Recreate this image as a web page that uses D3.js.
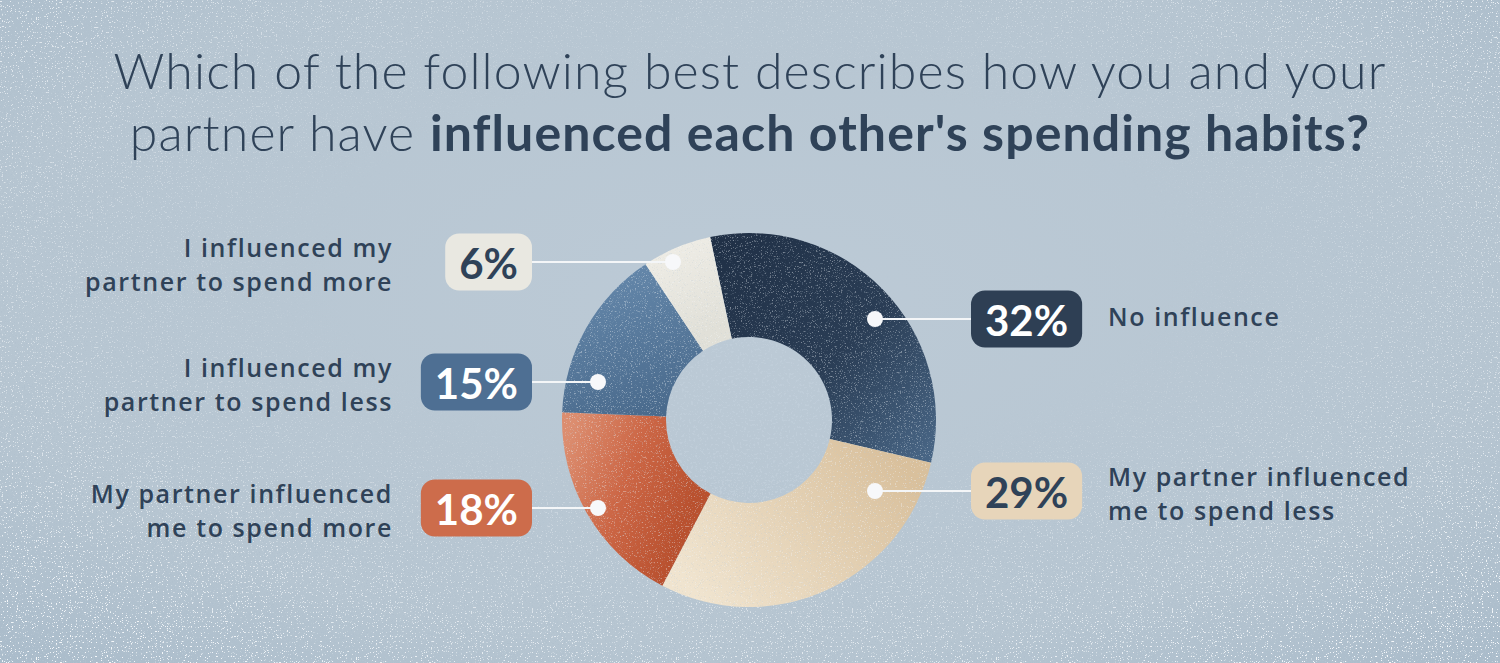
<!DOCTYPE html>
<html>
<head>
<meta charset="utf-8">
<script src="https://cdn.jsdelivr.net/npm/d3@7"></script>
<style>
  html, body { margin: 0; padding: 0; background: #b8c7d3; }
  svg { display: block; }
</style>
</head>
<body>
<svg id="chart" width="1500" height="663"></svg>
<script>
// ---------- DATA ----------
const categories = [
  "No influence",
  "My partner influenced me to spend less",
  "My partner influenced me to spend more",
  "I influenced my partner to spend less",
  "I influenced my partner to spend more"
];
const values = [32, 29, 18, 15, 6];
const labelLines = [
  ["No influence"],
  ["My partner influenced", "me to spend less"],
  ["My partner influenced", "me to spend more"],
  ["I influenced my", "partner to spend less"],
  ["I influenced my", "partner to spend more"]
];
const titleLine1 = "Which of the following best describes how you and your";
const titleLine2Light = "partner have ";
const titleLine2Bold = "influenced each other's spending habits?";

// ---------- STYLE / LAYOUT ----------
const W = 1500, H = 663;
const textColor = "#2f4258";
const sliceGrad = [
  [["0", "#1f2f45"], ["0.55", "#2a3d55"], ["1", "#4a6888"]],
  [["0", "#d9c09c"], ["1", "#f0e4cf"]],
  [["0", "#dc8d6f"], ["0.5", "#cc6645"], ["1", "#b9512f"]],
  [["0", "#6487aa"], ["1", "#476789"]],
  [["0", "#efede6"], ["1", "#e1e0d8"]]
];
const gradVec = [
  [-40, -190, 190, 40],
  [150, 40, -40, 190],
  [-190, 40, -60, 90],
  [-140, -150, -90, 10],
  [-80, -180, -40, -90]
];
const boxFill = ["#2e3f54", "#e7d5ba", "#cd6c4b", "#4e6f93", "#e9e8e1"];
const boxText = ["#ffffff", "#2f4258", "#ffffff", "#ffffff", "#2f4258"];
// callout layout: side, row centre y, dot x
const calloutSide = ["right", "right", "left", "left", "left"];
const calloutRowY = [319, 491, 508, 382, 262];
const calloutDotX = [875, 875, 598, 598, 673];

const cx = 749, cy = 420, rOuter = 187, rInner = 83;
const startDeg = -12;

const svg = d3.select("#chart");
const defs = svg.append("defs");

// background gradient
const bgGrad = defs.append("radialGradient").attr("id", "bgGrad")
  .attr("cx", "50%").attr("cy", "45%").attr("r", "75%");
bgGrad.append("stop").attr("offset", "0").attr("stop-color", "#bccad6");
bgGrad.append("stop").attr("offset", "0.7").attr("stop-color", "#b6c5d1");
bgGrad.append("stop").attr("offset", "1").attr("stop-color", "#a9bbca");

// speckle filters
function speckle(id, freq, seed, color, k, t) {
  const f = defs.append("filter").attr("id", id)
    .attr("x", 0).attr("y", 0).attr("width", "100%").attr("height", "100%");
  f.append("feTurbulence").attr("type", "fractalNoise")
    .attr("baseFrequency", freq).attr("numOctaves", 2).attr("seed", seed).attr("result", "n");
  const c = d3.color(color);
  f.append("feColorMatrix").attr("in", "n").attr("type", "matrix")
    .attr("values", `0 0 0 0 ${c.r/255} 0 0 0 0 ${c.g/255} 0 0 0 0 ${c.b/255} ${k} 0 0 0 ${-t}`)
    .attr("result", "s");
  f.append("feComposite").attr("in", "s").attr("in2", "SourceGraphic").attr("operator", "in");
}
speckle("spDark", 0.9, 3, "#6f879d", 14, 8.9);
speckle("spLight", 0.8, 11, "#e6eef4", 14, 9.1);
speckle("spDarkFine", 1.6, 7, "#7e95aa", 12, 7.6);
speckle("spHole", 0.45, 5, "#879db2", 16, 9.6);

// edge mask for heavier texture near borders
const edgeGrad = defs.append("radialGradient").attr("id", "edgeGrad")
  .attr("cx", "50%").attr("cy", "40%").attr("r", "70%");
edgeGrad.append("stop").attr("offset", "0.4").attr("stop-color", "#000");
edgeGrad.append("stop").attr("offset", "1").attr("stop-color", "#fff");
defs.append("mask").attr("id", "edgeMask")
  .append("rect").attr("width", W).attr("height", H).attr("fill", "url(#edgeGrad)");

svg.append("rect").attr("width", W).attr("height", H).attr("fill", "url(#bgGrad)");
svg.append("rect").attr("width", W).attr("height", H).attr("fill", "#fff")
  .attr("filter", "url(#spDarkFine)").attr("opacity", 0.35);
const tex = svg.append("g").attr("mask", "url(#edgeMask)");
tex.append("rect").attr("width", W).attr("height", H).attr("fill", "#fff").attr("filter", "url(#spDark)").attr("opacity", 1);
tex.append("rect").attr("width", W).attr("height", H).attr("fill", "#fff").attr("filter", "url(#spLight)").attr("opacity", 1);

// ---------- TITLE ----------
const title = svg.append("text")
  .attr("text-anchor", "middle")
  .attr("fill", textColor)
  .style("font-family", "Lato, 'Open Sans', sans-serif")
  .style("font-size", "50px")
  .style("letter-spacing", "1.1px");
title.append("tspan").attr("x", W / 2).attr("y", 89)
  .style("font-weight", 300).text(titleLine1);
const l2 = title.append("tspan").attr("x", W / 2).attr("y", 151);
l2.append("tspan").style("font-weight", 300).text(titleLine2Light);
l2.append("tspan").style("font-weight", 700).text(titleLine2Bold);

// ---------- DONUT ----------
const pie = d3.pie().sort(null).value(d => d)
  .startAngle(startDeg * Math.PI / 180)
  .endAngle((startDeg + 360) * Math.PI / 180);
const arcs = pie(values);
const arc = d3.arc().innerRadius(rInner).outerRadius(rOuter);

const g = svg.append("g").attr("transform", `translate(${cx},${cy})`);

// speckled hole
defs.append("clipPath").attr("id", "holeClip").append("circle").attr("r", rInner);
g.append("g").attr("clip-path", "url(#holeClip)")
  .append("rect").attr("x", -rInner).attr("y", -rInner).attr("width", 2 * rInner).attr("height", 2 * rInner)
  .attr("fill", "#fff").attr("filter", "url(#spHole)").attr("opacity", 0.9);

arcs.forEach((a, i) => {
  const gr = defs.append("linearGradient").attr("id", "sg" + i)
    .attr("gradientUnits", "userSpaceOnUse")
    .attr("x1", gradVec[i][0]).attr("y1", gradVec[i][1])
    .attr("x2", gradVec[i][2]).attr("y2", gradVec[i][3]);
  sliceGrad[i].forEach(s => gr.append("stop").attr("offset", s[0]).attr("stop-color", s[1]));
});

g.selectAll("path.slice").data(arcs).join("path")
  .attr("class", "slice")
  .attr("d", arc)
  .attr("fill", (d, i) => `url(#sg${i})`);

// grain on donut
defs.append("clipPath").attr("id", "donutClip")
  .selectAll("path").data(arcs).join("path").attr("d", arc);
const grain = g.append("g").attr("clip-path", "url(#donutClip)");
grain.append("rect").attr("x", -rOuter).attr("y", -rOuter).attr("width", 2 * rOuter).attr("height", 2 * rOuter)
  .attr("fill", "#fff").attr("filter", "url(#spLight)").attr("opacity", 0.35);
grain.append("rect").attr("x", -rOuter).attr("y", -rOuter).attr("width", 2 * rOuter).attr("height", 2 * rOuter)
  .attr("fill", "#fff").attr("filter", "url(#spDarkFine)").attr("opacity", 0.25);

// ---------- CALLOUTS ----------
const boxH = 57, padX = 14, rx = 14;
const leftBoxRight = 532, rightBoxLeft = 971;
const leftLabelX = 393, rightLabelX = 1108;

const callouts = svg.append("g");
arcs.forEach((a, i) => {
  const side = calloutSide[i];
  const y = calloutRowY[i];
  const dotX = calloutDotX[i];
  const grp = callouts.append("g");

  const pct = grp.append("text")
    .attr("fill", boxText[i])
    .attr("text-anchor", "middle")
    .attr("dominant-baseline", "central")
    .style("font-family", "Lato, 'Open Sans', sans-serif")
    .style("font-weight", 700)
    .style("font-size", "42px")
    .text(values[i] + "%");
  const tw = pct.node().getComputedTextLength();
  const bw = tw + 2 * padX;
  const bx = side === "left" ? leftBoxRight - bw : rightBoxLeft;
  pct.attr("x", bx + bw / 2).attr("y", y + 1);

  const lx1 = side === "left" ? leftBoxRight : dotX;
  const lx2 = side === "left" ? dotX : rightBoxLeft;
  grp.insert("line", "text").attr("x1", lx1).attr("x2", lx2).attr("y1", y).attr("y2", y)
    .attr("stroke", "#f4f6f8").attr("stroke-width", 2);
  grp.insert("rect", "text").attr("x", bx).attr("y", y - boxH / 2)
    .attr("width", bw).attr("height", boxH).attr("rx", rx)
    .attr("fill", boxFill[i]);
  grp.append("circle").attr("cx", dotX).attr("cy", y).attr("r", 8).attr("fill", "#f7f8fa");

  const lines = labelLines[i];
  const lh = 34;
  const firstBase = lines.length === 1 ? y + 7 : y - 5;
  lines.forEach((t, j) => {
    grp.append("text")
      .attr("fill", textColor)
      .attr("text-anchor", side === "left" ? "end" : "start")
      .attr("x", side === "left" ? leftLabelX : rightLabelX)
      .attr("y", firstBase + j * lh)
      .style("font-family", "'Open Sans', Lato, sans-serif")
      .style("font-weight", 600)
      .style("font-size", "25px")
      .style("letter-spacing", "1.6px")
      .text(t);
  });
});
</script>
</body>
</html>
